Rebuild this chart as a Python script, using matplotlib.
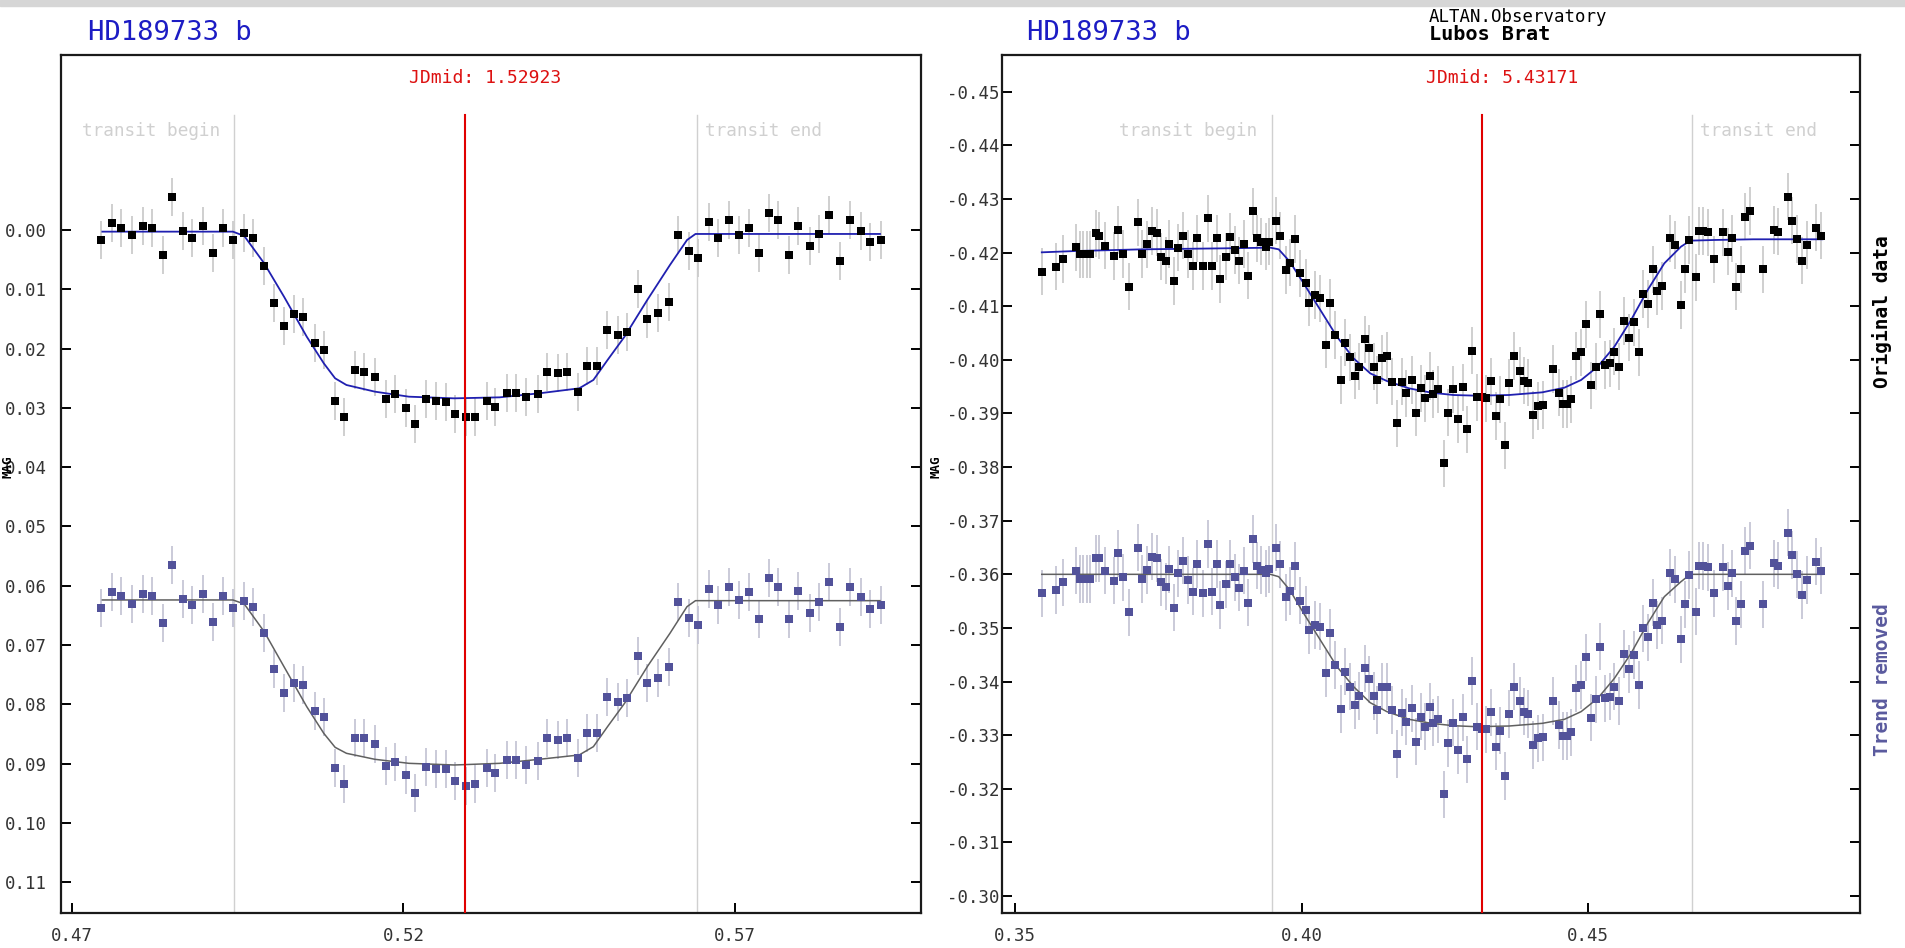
import matplotlib
matplotlib.use("Agg")
import matplotlib.pyplot as plt
from matplotlib.patches import Rectangle

plt.rcParams['font.family'] = ['DejaVu Sans Mono', 'DejaVu Sans']

# ---- left panel data (phase, mag) ----
t_left = [0.47443, 0.47606, 0.47743, 0.47914, 0.48076, 0.48213, 0.48376, 0.48513, 0.48676, 0.48813,
          0.48984, 0.49121, 0.49283, 0.49429, 0.49592, 0.49729, 0.49891, 0.50054, 0.50199, 0.50353,
          0.50490, 0.50662, 0.50799, 0.50961, 0.51107, 0.51269, 0.51406, 0.51569, 0.51740, 0.51877,
          0.52040, 0.52177, 0.52348, 0.52485, 0.52639, 0.52784, 0.52947, 0.53084, 0.53255, 0.53384,
          0.53555, 0.53692, 0.53854, 0.54026, 0.54163, 0.54325, 0.54462, 0.54633, 0.54770, 0.54924,
          0.55070, 0.55233, 0.55370, 0.55532, 0.55678, 0.55840, 0.56003, 0.56148, 0.56311, 0.56448,
          0.56611, 0.56748, 0.56910, 0.57056, 0.57210, 0.57356, 0.57518, 0.57655, 0.57818, 0.57955,
          0.58126, 0.58263, 0.58425, 0.58588, 0.58734, 0.58896, 0.59033, 0.59196]
orig_left = [0.00169, -0.00113, -0.00039, 0.00084, -0.00073, -0.00039, 0.00422, -0.00562, 0.00017, 0.00140,
             -0.00073, 0.00393, -0.00039, 0.00169, 0.00045, 0.00140, 0.00607, 0.01225, 0.01619, 0.01422,
             0.01461, 0.01900, 0.02024, 0.02878, 0.03159, 0.02361, 0.02389, 0.02484, 0.02850, 0.02766,
             0.03007, 0.03277, 0.02850, 0.02878, 0.02906, 0.03103, 0.03159, 0.03159, 0.02878, 0.02979,
             0.02754, 0.02754, 0.02822, 0.02766, 0.02389, 0.02417, 0.02389, 0.02726, 0.02293, 0.02293,
             0.01686, 0.01771, 0.01714, 0.01001, 0.01501, 0.01405, 0.01220, 0.00084, 0.00354, 0.00478,
             -0.00141, 0.00140, -0.00169, 0.00084, -0.00039, 0.00382, -0.00292, -0.00169, 0.00422, -0.00068,
             0.00264, 0.00073, -0.00253, 0.00517, -0.00169, 0.00017, 0.00197, 0.00169]
trend_left = [0.06380, 0.06099, 0.06172, 0.06307, 0.06138, 0.06172, 0.06633, 0.05649, 0.06228, 0.06329,
              0.06144, 0.06605, 0.06172, 0.06380, 0.06256, 0.06352, 0.06790, 0.07403, 0.07802, 0.07645,
              0.07678, 0.08106, 0.08207, 0.09067, 0.09342, 0.08572, 0.08572, 0.08668, 0.09033, 0.08977,
              0.09190, 0.09500, 0.09061, 0.09095, 0.09095, 0.09286, 0.09376, 0.09342, 0.09067, 0.09162,
              0.08938, 0.08938, 0.09022, 0.08949, 0.08572, 0.08600, 0.08572, 0.08909, 0.08477, 0.08477,
              0.07870, 0.07954, 0.07898, 0.07184, 0.07645, 0.07560, 0.07375, 0.06268, 0.06549, 0.06661,
              0.06054, 0.06324, 0.06026, 0.06239, 0.06110, 0.06565, 0.05863, 0.06026, 0.06565, 0.06082,
              0.06453, 0.06268, 0.05930, 0.06700, 0.06026, 0.06183, 0.06391, 0.06324]
fit_t_left = [0.47460, 0.49429, 0.49600, 0.49900, 0.50199, 0.50542, 0.50799, 0.50970, 0.51141, 0.51569,
              0.52083, 0.52767, 0.53452, 0.54051, 0.54651, 0.54865, 0.55079, 0.55335, 0.55678, 0.56020,
              0.56277, 0.56405, 0.59187]
fit_orig_left = [0.00028, 0.00028, 0.00101, 0.00562, 0.01124, 0.01799, 0.02248, 0.02501, 0.02614, 0.02726,
                 0.02811, 0.02839, 0.02822, 0.02754, 0.02670, 0.02529, 0.02192, 0.01799, 0.01180, 0.00590,
                 0.00169, 0.00067, 0.00067]
fit_trend_left = [0.06239, 0.06239, 0.06307, 0.06773, 0.07364, 0.08038, 0.08488, 0.08724, 0.08825, 0.08926,
                  0.08994, 0.09022, 0.08994, 0.08926, 0.08853, 0.08713, 0.08375, 0.07982, 0.07364, 0.06801,
                  0.06352, 0.06251, 0.06251]

# ---- right panel data ----
t_right = [0.35463, 0.35705, 0.35831, 0.36064, 0.36131, 0.36190, 0.36248, 0.36306, 0.36403, 0.36471,
           0.36567, 0.36732, 0.36800, 0.36887, 0.36984, 0.37149, 0.37207, 0.37294, 0.37382, 0.37469,
           0.37537, 0.37624, 0.37692, 0.37779, 0.37847, 0.37934, 0.38012, 0.38099, 0.38176, 0.38273,
           0.38360, 0.38428, 0.38516, 0.38583, 0.38680, 0.38748, 0.38835, 0.38913, 0.39000, 0.39068,
           0.39155, 0.39223, 0.39291, 0.39378, 0.39436, 0.39553, 0.39630, 0.39737, 0.39795, 0.39892,
           0.39979, 0.40076, 0.40134, 0.40241, 0.40328, 0.40425, 0.40493, 0.40590, 0.40687, 0.40754,
           0.40851, 0.40939, 0.41006, 0.41103, 0.41171, 0.41258, 0.41326, 0.41413, 0.41501, 0.41588,
           0.41675, 0.41753, 0.41830, 0.41927, 0.41995, 0.42082, 0.42150, 0.42247, 0.42305, 0.42392,
           0.42480, 0.42567, 0.42644, 0.42732, 0.42819, 0.42887, 0.42984, 0.43061, 0.43148, 0.43216,
           0.43303, 0.43391, 0.43468, 0.43555, 0.43623, 0.43720, 0.43817, 0.43885, 0.43962, 0.44050,
           0.44137, 0.44214, 0.44399, 0.44496, 0.44563, 0.44631, 0.44709, 0.44796, 0.44883, 0.44970,
           0.45058, 0.45135, 0.45222, 0.45300, 0.45387, 0.45465, 0.45542, 0.45639, 0.45717, 0.45804,
           0.45891, 0.45959, 0.46046, 0.46133, 0.46211, 0.46298, 0.46434, 0.46531, 0.46628, 0.46696,
           0.46773, 0.46899, 0.46938, 0.47006, 0.47103, 0.47200, 0.47364, 0.47442, 0.47519, 0.47597,
           0.47675, 0.47742, 0.47839, 0.48062, 0.48246, 0.48324, 0.48498, 0.48566, 0.48663, 0.48741,
           0.48828, 0.48983, 0.49070]
orig_right = [-0.41643, -0.41737, -0.41880, -0.42097, -0.41967, -0.41967, -0.41967, -0.41967, -0.42358, -0.42315,
              -0.42128, -0.41936, -0.42421, -0.41973, -0.41364, -0.42564, -0.41973, -0.42153, -0.42402, -0.42371,
              -0.41923, -0.41849, -0.42160, -0.41469, -0.42091, -0.42315, -0.41973, -0.41749, -0.42265, -0.41749,
              -0.42638, -0.41749, -0.42265, -0.41507, -0.41923, -0.42296, -0.42048, -0.41849, -0.42160, -0.41569,
              -0.42769, -0.42265, -0.42203, -0.42110, -0.42203, -0.42595, -0.42315, -0.41675, -0.41811, -0.42253,
              -0.41612, -0.41438, -0.41065, -0.41208, -0.41146, -0.40282, -0.41065, -0.40462, -0.39623, -0.40319,
              -0.40046, -0.39704, -0.39872, -0.40381, -0.40214, -0.39872, -0.39623, -0.40027, -0.40071, -0.39592,
              -0.38815, -0.39592, -0.39374, -0.39623, -0.39014, -0.39467, -0.39281, -0.39698, -0.39362, -0.39449,
              -0.38069, -0.39014, -0.39449, -0.38889, -0.39486, -0.38703, -0.40170, -0.39300, -0.39300, -0.39281,
              -0.39598, -0.38952, -0.39262, -0.38404, -0.39573, -0.40071, -0.39791, -0.39611, -0.39573, -0.38970,
              -0.39138, -0.39157, -0.39828, -0.39387, -0.39175, -0.39175, -0.39262, -0.40071, -0.40139, -0.40661,
              -0.39524, -0.39872, -0.40848, -0.39903, -0.39934, -0.40151, -0.39872, -0.40723, -0.40413, -0.40699,
              -0.40139, -0.41227, -0.41040, -0.41687, -0.41283, -0.41376, -0.42265, -0.42141, -0.41022, -0.41687,
              -0.42234, -0.41538, -0.42402, -0.42402, -0.42377, -0.41874, -0.42377, -0.42017, -0.42265, -0.41364,
              -0.41687, -0.42669, -0.42775, -0.41687, -0.42421, -0.42390, -0.43042, -0.42595, -0.42253, -0.41849,
              -0.42141, -0.42464, -0.42315]
trend_right = [-0.35645, -0.35707, -0.35850, -0.36067, -0.35912, -0.35912, -0.35912, -0.35912, -0.36297, -0.36297,
               -0.36067, -0.35881, -0.36391, -0.35943, -0.35290, -0.36496, -0.35912, -0.36080, -0.36328, -0.36297,
               -0.35850, -0.35769, -0.36092, -0.35377, -0.36018, -0.36254, -0.35893, -0.35676, -0.36192, -0.35645,
               -0.36565, -0.35676, -0.36192, -0.35427, -0.35812, -0.36192, -0.35943, -0.35750, -0.36067, -0.35470,
               -0.36658, -0.36161, -0.36080, -0.36018, -0.36092, -0.36496, -0.36185, -0.35570, -0.35688, -0.36154,
               -0.35508, -0.35334, -0.34961, -0.35054, -0.35023, -0.34152, -0.34911, -0.34308, -0.33487, -0.34184,
               -0.33904, -0.33562, -0.33730, -0.34246, -0.34041, -0.33730, -0.33469, -0.33904, -0.33904, -0.33469,
               -0.32648, -0.33419, -0.33251, -0.33500, -0.32878, -0.33344, -0.33158, -0.33531, -0.33232, -0.33295,
               -0.31896, -0.32847, -0.33232, -0.32723, -0.33332, -0.32549, -0.34009, -0.33158, -0.33108, -0.33108,
               -0.33425, -0.32785, -0.33083, -0.32238, -0.33394, -0.33904, -0.33636, -0.33438, -0.33394, -0.32816,
               -0.32940, -0.32959, -0.33636, -0.33189, -0.32984, -0.32984, -0.33052, -0.33873, -0.33935, -0.34451,
               -0.33326, -0.33668, -0.34650, -0.33686, -0.33717, -0.33904, -0.33636, -0.34513, -0.34233, -0.34494,
               -0.33935, -0.34992, -0.34824, -0.35470, -0.35054, -0.35135, -0.36030, -0.35906, -0.34787, -0.35439,
               -0.35987, -0.35303, -0.36161, -0.36154, -0.36129, -0.35645, -0.36129, -0.35781, -0.36018, -0.35129,
               -0.35439, -0.36434, -0.36534, -0.35439, -0.36204, -0.36161, -0.36776, -0.36360, -0.35999, -0.35613,
               -0.35893, -0.36235, -0.36067]
fit_t_right = [0.35463, 0.36064, 0.37227, 0.38680, 0.39456, 0.39601, 0.39795, 0.40037, 0.40328, 0.40619,
               0.40909, 0.41200, 0.41491, 0.41879, 0.42266, 0.42654, 0.43042, 0.43623, 0.44205, 0.44592,
               0.44883, 0.45174, 0.45465, 0.45756, 0.46046, 0.46337, 0.46628, 0.46792, 0.47209, 0.47888,
               0.49099]
fit_orig_right = [-0.42004, -0.42029, -0.42060, -0.42079, -0.42091, -0.42060, -0.41830, -0.41426, -0.40929, -0.40431,
                  -0.40027, -0.39747, -0.39604, -0.39467, -0.39387, -0.39343, -0.39331, -0.39343, -0.39393, -0.39480,
                  -0.39623, -0.39872, -0.40245, -0.40742, -0.41302, -0.41799, -0.42110, -0.42222, -0.42234, -0.42247,
                  -0.42247]
fit_t2_right = [0.35463, 0.39456, 0.39601, 0.39795, 0.40037, 0.40328, 0.40619, 0.40909, 0.41200, 0.41491,
                0.41879, 0.42266, 0.42654, 0.43042, 0.43623, 0.44205, 0.44592, 0.44883, 0.45174, 0.45465,
                0.45756, 0.46046, 0.46337, 0.46628, 0.46792, 0.49099]
fit_trend_right = [-0.35999, -0.35999, -0.35955, -0.35707, -0.35272, -0.34774, -0.34277, -0.33904, -0.33605, -0.33438,
                   -0.33295, -0.33220, -0.33176, -0.33158, -0.33170, -0.33220, -0.33295, -0.33438, -0.33686, -0.34059,
                   -0.34526, -0.35085, -0.35582, -0.35862, -0.35999, -0.35999]

# transit markers and axis setup
jd_mid = [0.52931, 0.43161]
jd_label = ['1.52923', '5.43171']
t_begin = [0.4944, 0.39477]
t_end = [0.5643, 0.46815]
err = [0.0032, 0.0044]
xlims = [(0.46836, 0.59806), (0.34768, 0.49755)]
ylims = [(0.11518, -0.02951), (-0.29683, -0.45684)]
xticks = [[0.47, 0.52, 0.57], [0.35, 0.40, 0.45]]
yticks = [[i / 100 for i in range(0, 12)], [-0.45 + i / 100 for i in range(0, 16)]]

fig = plt.figure(figsize=(19.05, 9.48), dpi=100)
fig.patches.append(Rectangle((0, 1 - 6 / 948), 1, 6 / 948, transform=fig.transFigure,
                             color='#d6d6d6', zorder=0))

W, H = 1905, 948
ax_left = fig.add_axes([61 / W, 1 - 913 / H, 860 / W, 858 / H])
ax_right = fig.add_axes([1002 / W, 1 - 913 / H, 858 / W, 858 / H])

panels = [
    (ax_left, t_left, orig_left, trend_left, fit_t_left, fit_orig_left, fit_t_left, fit_trend_left),
    (ax_right, t_right, orig_right, trend_right, fit_t_right, fit_orig_right, fit_t2_right, fit_trend_right),
]

for i, (ax, t, orig, trend, ft1, fo, ft2, ftr) in enumerate(panels):
    ax.errorbar(t, orig, yerr=err[i], fmt='none', ecolor='#cccccc', elinewidth=1.3, zorder=2)
    ax.errorbar(t, trend, yerr=err[i], fmt='none', ecolor='#c6c6d6', elinewidth=1.3, zorder=2)
    ax.plot(ft1, fo, color='#2020b0', lw=1.3, zorder=3)
    ax.plot(ft2, ftr, color='#606060', lw=1.1, zorder=3)
    ax.plot(t, orig, 's', ms=5.4, color='black', mew=0, zorder=4)
    ax.plot(t, trend, 's', ms=5.4, color='#52529a', mew=0, zorder=4)

    ax.axvline(jd_mid[i], ymin=0, ymax=0.93, color='#e00000', lw=1.5, zorder=5)
    ax.axvline(t_begin[i], ymin=0, ymax=0.93, color='#d0d0d0', lw=1.0, zorder=1)
    ax.axvline(t_end[i], ymin=0, ymax=0.93, color='#d0d0d0', lw=1.0, zorder=1)

    ax.annotate('JDmid: ' + jd_label[i], xy=(jd_mid[i], 0.973), xycoords=('data', 'axes fraction'),
                xytext=(20, 0), textcoords='offset pixels', ha='center', va='center',
                color='#dd1111', fontsize=13)
    ax.annotate('transit begin', xy=(t_begin[i], 0.9114), xycoords=('data', 'axes fraction'),
                xytext=(-14, 0), textcoords='offset pixels', ha='right', va='center',
                color='#d0d0d0', fontsize=12.8)
    ax.annotate('transit end', xy=(t_end[i], 0.9114), xycoords=('data', 'axes fraction'),
                xytext=(8, 0), textcoords='offset pixels', ha='left', va='center',
                color='#d0d0d0', fontsize=12.8)

    ax.set_xlim(*xlims[i])
    ax.set_ylim(*ylims[i])
    ax.set_xticks(xticks[i])
    ax.set_xticklabels(['%.2f' % v for v in xticks[i]])
    ax.set_yticks(yticks[i])
    ax.set_yticklabels(['%.2f' % v for v in yticks[i]])
    ax.tick_params(axis='both', direction='in', length=7.5, width=1.4, right=True, top=False,
                   labelsize=12.5, labelcolor='#333333')
    ax.tick_params(axis='x', pad=10)
    ax.tick_params(axis='y', pad=10 if i == 0 else 2)
    for sp in ax.spines.values():
        sp.set_linewidth(1.6)
        sp.set_color('#1a1a1a')

# titles and side labels
fig.text(88 / W, 1 - 33 / H, 'HD189733 b', color='#1c1cc4', fontsize=19.5, ha='left', va='center')
fig.text(1027 / W, 1 - 33 / H, 'HD189733 b', color='#1c1cc4', fontsize=19.5, ha='left', va='center')
fig.text(1429 / W, 1 - 17 / H, 'ALTAN.Observatory', color='black', fontsize=12.5, ha='left', va='center')
fig.text(1429 / W, 1 - 35 / H, 'Lubos Brat', color='black', fontsize=14.5, fontweight='bold',
         ha='left', va='center')
fig.text(2 / W, 1 - 467 / H, 'MAG', rotation=90, fontsize=9, fontweight='bold', ha='left', va='center')
fig.text(936 / W, 1 - 467 / H, 'MAG', rotation=90, fontsize=9, fontweight='bold', ha='center', va='center')
fig.text(1882 / W, 1 - 312 / H, 'Original data', rotation=90, fontsize=14, fontweight='bold',
         ha='center', va='center', color='black')
fig.text(1882 / W, 1 - 680 / H, 'Trend removed', rotation=90, fontsize=14, fontweight='bold',
         ha='center', va='center', color='#5a5a9e')

fig.savefig('out.png', dpi=100)
